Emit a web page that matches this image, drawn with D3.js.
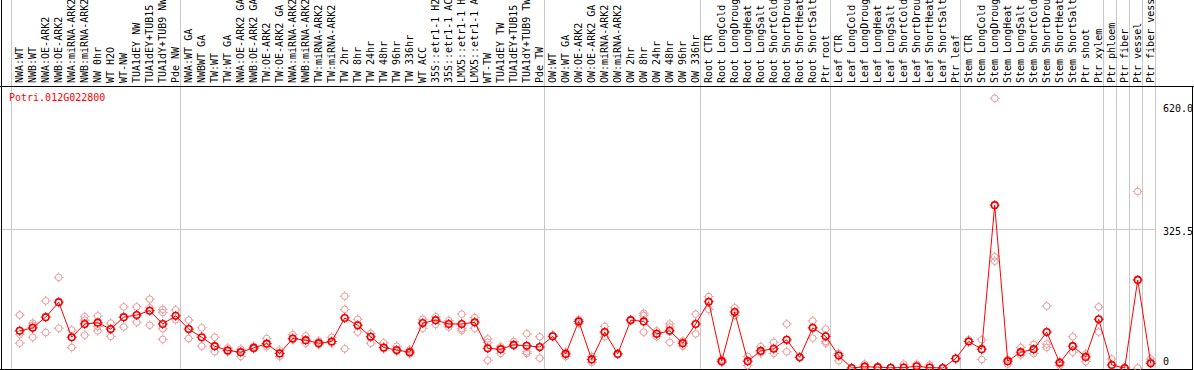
<!DOCTYPE html>
<html>
<head>
<meta charset="utf-8">
<script src="https://cdn.jsdelivr.net/npm/d3@7"></script>
<style>
	body { margin: 0; background: #fff; }
	svg { display: block; }
	text { font-family: "DejaVu Sans Mono", monospace; font-size: 10px; }
</style>
</head>
<body>
<div id="chart"></div>
<script>
var geneId = "Potri.012G022800";

var categories = [
	"NWA:WT", "NWB:WT", "NWA:OE-ARK2", "NWB:OE-ARK2", "NWA:miRNA-ARK2", "NWB:miRNA-ARK2",
	"NW 0hr", "WT H2O", "WT-NW", "TUA1dEY NW", "TUA1dEY+TUB15 NW", "TUA1dY+TUB9 NW", "Pde NW",
	"NWA:WT GA", "NWBWT GA", "TW:WT", "TW:WT GA", "NWA:OE-ARK2 GA", "NWB:OE-ARK2 GA",
	"TW:OE-ARK2", "TW:OE-ARK2 GA", "NWA:miRNA-ARK2 GA", "NWB:miRNA-ARK2 GA", "TW:miRNA-ARK2",
	"TW:miRNA-ARK2 GA", "TW 2hr", "TW 8hr", "TW 24hr", "TW 48hr", "TW 96hr", "TW 336hr", "WT ACC",
	"35S::etr1-1 H2O", "35S::etr1-1 ACC", "LMX5::etr1-1 H2O", "LMX5::etr1-1 ACC", "WT-TW",
	"TUA1dEY TW", "TUA1dEY+TUB15 TW", "TUA1dY+TUB9 TW", "Pde TW",
	"OW:WT", "OW:WT GA", "OW:OE-ARK2", "OW:OE-ARK2 GA", "OW:miRNA-ARK2", "OW:miRNA-ARK2 GA",
	"OW 2hr", "OW 8hr", "OW 24hr", "OW 48hr", "OW 96hr", "OW 336hr",
	"Root CTR", "Root LongCold", "Root LongDrought", "Root LongHeat", "Root LongSalt",
	"Root ShortCold", "Root ShortDrought", "Root ShortHeat", "Root ShortSalt", "Ptr root",
	"Leaf CTR", "Leaf LongCold", "Leaf LongDrought", "Leaf LongHeat", "Leaf LongSalt",
	"Leaf ShortCold", "Leaf ShortDrought", "Leaf ShortHeat", "Leaf ShortSalt", "Ptr leaf",
	"Stem CTR", "Stem LongCold", "Stem LongDrought", "Stem LongHeat", "Stem LongSalt",
	"Stem ShortCold", "Stem ShortDrought", "Stem ShortHeat", "Stem ShortSalt", "Ptr shoot", "Ptr xylem",
	"Ptr phloem", "Ptr fiber", "Ptr vessel", "Ptr fiber vessel"
];

// number of categories in each experiment block
var groupSizes = [13, 28, 12, 10, 10, 11, 1, 1, 1, 1];

var means = [
	87, 94, 119, 154, 72, 103, 106, 91, 119, 124, 134, 103, 122,
	91, 72, 51, 41, 37, 47, 57, 34, 69, 65, 58, 62, 117, 100, 73, 48, 42, 37, 105,
	112, 103, 103, 107, 46, 44, 54, 52, 49,
	74, 33, 109, 20, 84, 33, 112, 109, 80, 87, 58, 103,
	155, 16, 131, 16, 40, 45, 66, 25, 94, 74,
	29, 0, 3, 2, 0.5, 1, 4, 1, 0, 22,
	62, 44, 381, 16, 37, 44, 84, 12, 51, 26, 114,
	7, 0, 206, 11
];

var replicates = [
	[124, 79, 58], [105, 100, 72], [157, 83], [212, 93], [89, 48], [120, 112, 77], [122, 97, 87],
	[105, 74], [143, 96], [143, 107], [161, 141, 100], [137, 130, 92, 67], [136, 113],
	[112, 69], [94, 51], [72, 38], [47, 38], [44, 27], [51, 45], [69, 50], [42, 27], [78, 66],
	[75, 58], [63, 55], [72, 58], [168, 137, 45], [114, 84], [81, 58], [59, 45], [51, 39],
	[42, 33], [114, 93], [120, 102], [111, 96], [126, 92, 88], [118, 93], [68, 60, 18],
	[50, 34], [62, 52], [80, 38, 34], [73, 23],
	[77], [37, 27], [113, 104], [27, 13], [97, 73], [33], [113], [128, 123, 84], [87, 73],
	[103, 96, 60], [63, 51], [126, 80],
	[167, 137], [20, 13], [141, 123], [27, 6], [50, 35], [60, 34], [103, 38], [25], [110, 70],
	[91, 62, 58],
	[34, 17], [0], [9], [2], [0.5], [9], [9], [7], [0], [22],
	[66], [66, 20], [631, 260, 250], [20, 9], [48, 30], [55, 34], [145, 56, 48], [15, 6],
	[73, 37], [33, 15], [143, 84],
	[21], [0], [413, 0], [21, 15]
];

var yTicks = [0, 325.5, 620];
var yTickLabels = ["0", "325.5", "620.0"];

var W = 1194, H = 370;
var plotLeft = 11, plotRight = 1155, plotBottom = 369.5, headerY = 86.5;

var svg = d3.select("#chart").append("svg")
	.attr("width", W)
	.attr("height", H);

var x = d3.scaleLinear().domain([0, categories.length]).range([plotLeft, plotRight]);
var y = d3.scaleLinear().domain([0, 620]).range([368, 103]);

function px(i) { return x(i + 0.67); }

// vertical block separators
var bounds = [0];
groupSizes.forEach(function(s) { bounds.push(bounds[bounds.length - 1] + s); });

svg.append("g").selectAll("line").data(bounds).enter().append("line")
	.attr("x1", function(d) { return Math.round(x(d)) + 0.5; })
	.attr("x2", function(d) { return Math.round(x(d)) + 0.5; })
	.attr("y1", 0).attr("y2", plotBottom)
	.attr("stroke", "#c8c8c8").attr("stroke-width", 1);

// horizontal grid at middle tick
svg.append("line")
	.attr("x1", 0).attr("x2", plotRight)
	.attr("y1", Math.round(y(yTicks[1])) + 0.5).attr("y2", Math.round(y(yTicks[1])) + 0.5)
	.attr("stroke", "#c8c8c8").attr("stroke-width", 1);

// frame
var frame = svg.append("g").attr("stroke", "#000").attr("stroke-width", 1);
frame.append("line").attr("x1", 0).attr("x2", W).attr("y1", headerY).attr("y2", headerY);
frame.append("line").attr("x1", 1.5).attr("x2", 1.5).attr("y1", 0).attr("y2", H);
frame.append("line").attr("x1", 0).attr("x2", 1192.5).attr("y1", plotBottom).attr("y2", plotBottom);
frame.append("line").attr("x1", 1192.5).attr("x2", 1192.5).attr("y1", headerY).attr("y2", H);

// rotated category labels (long ones run off the top edge, as in the original)
svg.append("g").selectAll("text").data(categories).enter().append("text")
	.attr("transform", function(d, i) { return "translate(" + px(i) + ",83) rotate(-90)"; })
	.attr("dy", "0.35em")
	.attr("fill", "#000")
	.text(function(d) { return d; });

// right value labels
svg.append("g").selectAll("text").data(yTicks).enter().append("text")
	.attr("x", 1163)
	.attr("y", function(d) { return Math.max(112, Math.min(y(d) + 6.5, 365)); })
	.attr("fill", "#000")
	.text(function(d, i) { return yTickLabels[i]; });

svg.append("text")
	.attr("x", 9).attr("y", 101)
	.attr("fill", "#f00")
	.text(geneId);

function marker(g, cx, cy, color, sw) {
	var m = g.append("g").attr("transform", "translate(" + cx + "," + cy + ")")
		.attr("stroke", color).attr("stroke-width", sw).attr("fill", "none");
	m.append("circle").attr("r", 3.3);
	m.append("path").attr("d", "M0,-3.3V-5M0,3.3V5M-3.3,0H-5M3.3,0H5").attr("stroke-width", 1);
}

var repG = svg.append("g");
replicates.forEach(function(reps, i) {
	reps.forEach(function(v) { marker(repG, px(i), y(v), "#ec9a9a", 1); });
});

var line = d3.line()
	.x(function(d, i) { return px(i); })
	.y(function(d) { return y(d); });

svg.append("path")
	.datum(means)
	.attr("d", line)
	.attr("fill", "none")
	.attr("stroke", "#f00")
	.attr("stroke-width", 1);

var meanG = svg.append("g");
means.forEach(function(v, i) { marker(meanG, px(i), y(v), "#e00", 1.6); });
</script>
</body>
</html>
